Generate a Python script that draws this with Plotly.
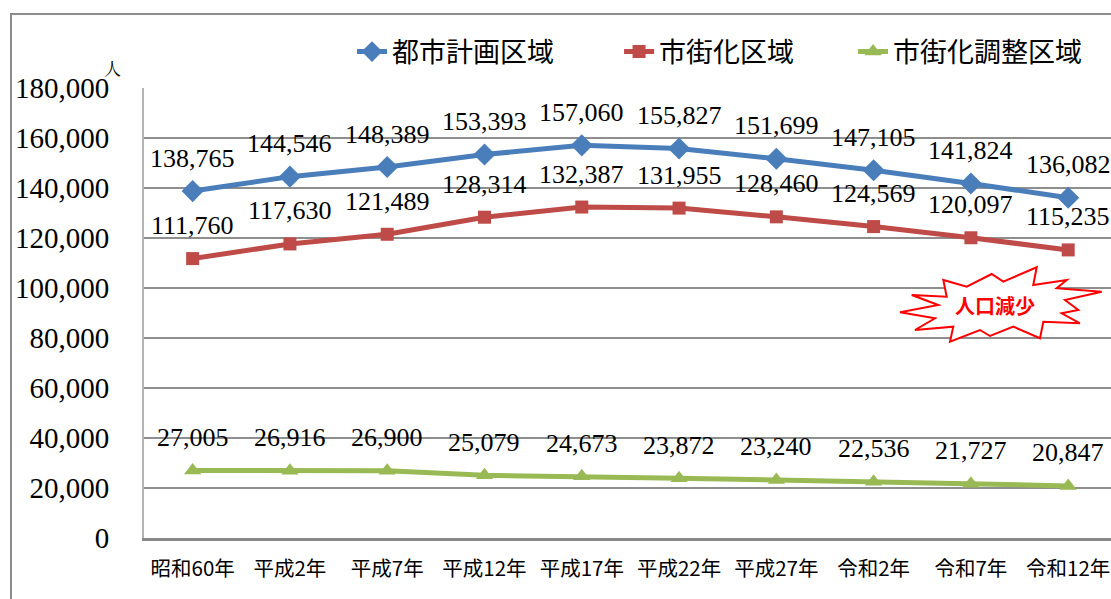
import plotly.graph_objects as go

categories = ["昭和60年", "平成2年", "平成7年", "平成12年", "平成17年",
              "平成22年", "平成27年", "令和2年", "令和7年", "令和12年"]
toshi_keikaku = [138765, 144546, 148389, 153393, 157060, 155827, 151699, 147105, 141824, 136082]
shigaika = [111760, 117630, 121489, 128314, 132387, 131955, 128460, 124569, 120097, 115235]
chosei = [27005, 26916, 26900, 25079, 24673, 23872, 23240, 22536, 21727, 20847]
y_ticks = list(range(0, 180001, 20000))

series = [
    ("都市計画区域", toshi_keikaku, "#4A7EBB", "diamond", 17, "\u3000\u3000\u00a0"),
    ("市街化区域", shigaika, "#BE4B48", "square", 13, "\u3000\u3000"),
    ("市街化調整区域", chosei, "#98B954", "triangle-up", 15, ""),
]

W, H = 1111, 599
ML, MR, MT, MB = 144, 0, 88, 61
PW, PH = W - ML - MR, H - MT - MB

def px2paper(x, y):
    return (x - ML) / PW, (H - MB - y) / PH

fig = go.Figure()
annotations = []
for name, vals, color, sym, msize, pad in series:
    fig.add_trace(go.Scatter(
        x=categories, y=vals, name=name + pad,
        mode="lines+markers",
        line=dict(color=color, width=5),
        marker=dict(symbol=sym, size=msize, color=color),
    ))
    for c, v in zip(categories, vals):
        annotations.append(dict(
            x=c, y=v, xref="x", yref="y", text=f"{v:,}", showarrow=False,
            yshift=33, font=dict(family="Liberation Serif", size=26, color="#000"),
        ))

# unit label
ux, uy = px2paper(112, 67)
annotations.append(dict(x=ux, y=uy, xref="paper", yref="paper", text="人",
                        xanchor="center", yanchor="middle",
                        showarrow=False, font=dict(family="Noto Serif CJK JP, Noto Sans CJK JP", size=17, color="#000")))
# burst label
bx, by = px2paper(995, 305)
annotations.append(dict(x=bx, y=by, xref="paper", yref="paper", text="<b>人口減少</b>",
                        xanchor="center", yanchor="middle",
                        showarrow=False, font=dict(family="Noto Sans CJK JP", size=20, color="#FF0000")))

star_px = [(911.7, 295), (946.7, 296.7), (943.3, 280), (966.7, 286.7), (991.7, 274),
           (1003.3, 281.7), (1036.7, 267.3), (1033.3, 285), (1066.7, 280), (1056.7, 288.3),
           (1101.7, 291.7), (1065, 300), (1078.3, 310), (1061.7, 313.3), (1080, 323.3),
           (1043.3, 321.7), (1040, 338.3), (1013.3, 326.7), (990, 336), (980, 330),
           (950, 341.7), (953.3, 326.7), (915, 330), (935, 318.3), (900, 312.3), (938.3, 305)]
pts = [px2paper(x, y) for x, y in star_px]
path = "M" + " L".join(f"{x:.4f},{y:.4f}" for x, y in pts) + " Z"

bl, bt = px2paper(11, 14)
shapes = [
    dict(type="rect", xref="paper", yref="paper", x0=bl, y0=-0.3, x1=1.2, y1=bt,
         line=dict(color="#8C8C8C", width=2), fillcolor="rgba(0,0,0,0)", layer="below"),
    dict(type="path", xref="paper", yref="paper", path=path,
         line=dict(color="#FF0000", width=2), fillcolor="#FFFFFF", layer="above"),
]

fig.update_layout(
    width=W, height=H,
    margin=dict(l=ML, r=MR, t=MT, b=MB, pad=0),
    paper_bgcolor="white", plot_bgcolor="white",
    showlegend=True,
    legend=dict(orientation="h", x=(352 - ML) / PW, y=(H - MB - 52) / PH,
                xanchor="left", yanchor="middle",
                font=dict(family="Noto Sans CJK JP", size=27, color="#000"),
                bgcolor="rgba(0,0,0,0)", itemwidth=30),
    xaxis=dict(type="category", range=[-0.5, 9.44], showgrid=False,
               showline=True, linecolor="#888888", linewidth=3,
               ticks="", tickfont=dict(family="Noto Sans CJK JP", size=20.5, color="#000"),
               ticklabelstandoff=10, fixedrange=True),
    yaxis=dict(range=[0, 180000], tickvals=y_ticks,
               ticktext=[f"{v:,}" for v in y_ticks],
               showgrid=True, gridcolor="#8E8E8E", gridwidth=2,
               showline=True, linecolor="#B4B4B4", linewidth=2, zeroline=False,
               ticks="", ticklabelstandoff=27,
               tickfont=dict(family="Liberation Serif", size=29, color="#000"),
               fixedrange=True),
    annotations=annotations,
    shapes=shapes,
)

fig.write_html("out.html")
